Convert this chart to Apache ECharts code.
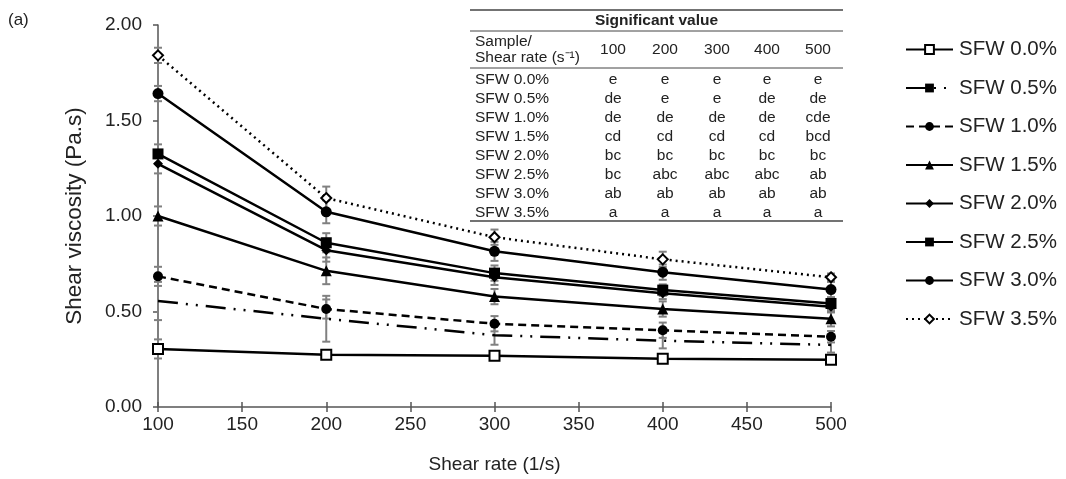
<!DOCTYPE html>
<html><head><meta charset="utf-8">
<script src="https://cdn.jsdelivr.net/npm/echarts@6/dist/echarts.min.js"></script>
<style>html,body{margin:0;padding:0;background:#fff}#c{width:1066px;height:479px}</style>
</head><body><div id="c"></div>
<script>
const shearRates = [100, 200, 300, 400, 500];
const seriesNames = ['SFW 0.0%','SFW 0.5%','SFW 1.0%','SFW 1.5%','SFW 2.0%','SFW 2.5%','SFW 3.0%','SFW 3.5%'];
const sfw00 = [0.304, 0.273, 0.268, 0.253, 0.248];
const sfw05 = [0.555, 0.462, 0.376, 0.347, 0.325];
const sfw10 = [0.684, 0.513, 0.436, 0.402, 0.368];
const sfw15 = [1.000, 0.713, 0.578, 0.513, 0.462];
const sfw20 = [1.273, 0.821, 0.679, 0.595, 0.525];
const sfw25 = [1.325, 0.860, 0.701, 0.612, 0.542];
const sfw30 = [1.641, 1.022, 0.815, 0.706, 0.615];
const sfw35 = [1.841, 1.094, 0.889, 0.773, 0.679];
const err00 = [0.05, 0.015, 0.015, 0.01, 0.01];
const err05 = [0.10, 0.12, 0.05, 0.04, 0.04];
const err10 = [0.05, 0.05, 0.04, 0.04, 0.03];
const err15 = [0.05, 0.07, 0.04, 0.04, 0.04];
const err20 = [0.05, 0.06, 0.04, 0.03, 0.03];
const err25 = [0.05, 0.05, 0.04, 0.03, 0.03];
const err30 = [0.04, 0.06, 0.05, 0.04, 0.04];
const err35 = [0.04, 0.06, 0.04, 0.04, 0.02];
const yTicks = [0, 0.5, 1.0, 1.5, 2.0];
const tableTitle = 'Significant value';
const tableHeadA = 'Sample/';
const tableHeadB = 'Shear rate (s\u207B\u00B9)';
const tableCols = ['100','200','300','400','500'];
const tableRows = ['SFW 0.0%','SFW 0.5%','SFW 1.0%','SFW 1.5%','SFW 2.0%','SFW 2.5%','SFW 3.0%','SFW 3.5%'];
const tableVals = [
  ['e','e','e','e','e'],
  ['de','e','e','de','de'],
  ['de','de','de','de','cde'],
  ['cd','cd','cd','cd','bcd'],
  ['bc','bc','bc','bc','bc'],
  ['bc','abc','abc','abc','ab'],
  ['ab','ab','ab','ab','ab'],
  ['a','a','a','a','a']
];

const values = [sfw00, sfw05, sfw10, sfw15, sfw20, sfw25, sfw30, sfw35];
const errors = [err00, err05, err10, err15, err20, err25, err30, err35];
const FONT = '"Liberation Sans", Arial, sans-serif';
const styles = [
  {symbol:'emptyRect', size:10, type:'solid', show:true},
  {symbol:'path://M0,0 L8,0 L8,4 L0,4 Z', size:[8,4], type:[20,8,2,8,2,8], show:false},
  {symbol:'circle', size:10, type:[8,5], show:true},
  {symbol:'triangle', size:11, type:'solid', show:true},
  {symbol:'diamond', size:10, type:'solid', show:true},
  {symbol:'rect', size:11, type:'solid', show:true},
  {symbol:'circle', size:11, type:'solid', show:true},
  {symbol:'emptyDiamond', size:10, type:[2,4], show:true}
];

const series = [];
values.forEach((vals, i) => {
  series.push({
    type: 'custom', name: seriesNames[i] + ' err', z: 1, silent: true,
    data: shearRates.map((x, j) => [x, vals[j], errors[i][j]]),
    renderItem: function (params, api) {
      const x = api.value(0), y = api.value(1), e = api.value(2);
      const top = api.coord([x, y + e]);
      const bot = api.coord([x, y - e]);
      const w = 4;
      const st = {stroke: '#808080', lineWidth: 2};
      return {type: 'group', children: [
        {type:'line', shape:{x1:top[0], y1:top[1], x2:bot[0], y2:bot[1]}, style: st},
        {type:'line', shape:{x1:top[0]-w, y1:top[1], x2:top[0]+w, y2:top[1]}, style: st},
        {type:'line', shape:{x1:bot[0]-w, y1:bot[1], x2:bot[0]+w, y2:bot[1]}, style: st}
      ]};
    }
  });
});
values.forEach((vals, i) => {
  const s = styles[i];
  const empty = s.symbol.indexOf('empty') === 0;
  series.push({
    type: 'line', name: seriesNames[i], z: 5,
    data: shearRates.map((x, j) => [x, vals[j]]),
    symbol: s.symbol, symbolSize: s.size, showSymbol: s.show,
    lineStyle: {color: '#000', width: 2.5, type: s.type},
    itemStyle: {color: '#000', borderColor: '#000', borderWidth: empty ? 2 : 0},
    animation: false
  });
});

// table graphics
const tX0 = 470, tX1 = 843, labelX = 475;
const colX = [613, 665, 717, 767, 818];
const rowY = [79, 98, 117, 136, 155, 174, 193, 212];
const g = [];
const hline = (y, w) => g.push({type:'line', shape:{x1:tX0, y1:y, x2:tX1, y2:y}, style:{stroke:'#444', lineWidth:w}});
hline(10, 1.5); hline(31, 1); hline(68, 1); hline(221, 1.5);
const txt = (t, x, y, align, bold) => g.push({type:'text', x:x, y:y, style:{text:t, fill:'#222', font:(bold?'bold ':'') + '15.5px ' + FONT, textAlign:align, textVerticalAlign:'middle'}});
txt(tableTitle, (tX0 + tX1) / 2, 21, 'center', true);
txt(tableHeadA, labelX, 42, 'left');
txt(tableHeadB, labelX, 58, 'left');
tableCols.forEach((c, j) => txt(c, colX[j], 50, 'center'));
tableRows.forEach((r, i) => {
  txt(r, labelX, rowY[i] + 1, 'left');
  tableVals[i].forEach((v, j) => txt(v, colX[j], rowY[i] + 1, 'center'));
});
g.push({type:'text', x:8, y:20, style:{text:'(a)', fill:'#222', font:'17px ' + FONT, textVerticalAlign:'middle'}});

const chart = echarts.init(document.getElementById('c'), null, {renderer: 'canvas'});
chart.setOption({
  animation: false,
  backgroundColor: '#fff',
  grid: {left: 158, right: 235, top: 25, bottom: 64},
  legend: {
    data: seriesNames, orient: 'vertical', left: 900, top: 34,
    itemWidth: 47, itemHeight: 11, itemGap: 17.5, symbolKeepAspect: true,
    textStyle: {fontSize: 20.5, color: '#222', fontFamily: FONT, padding: [0,0,0,1]}
  },
  xAxis: [{
    type: 'value', min: 100, max: 500, interval: 50,
    name: 'Shear rate (1/s)', nameLocation: 'middle', nameGap: 48,
    nameTextStyle: {fontSize: 19, color: '#222', fontFamily: FONT},
    axisLine: {lineStyle: {color: '#555', width: 1.5}},
    axisTick: {show: true, length: 5, lineStyle: {color: '#555', width: 1.5}},
    axisLabel: {fontSize: 19, color: '#222', fontFamily: FONT, margin: 8},
    splitLine: {show: false}
  }, {
    type: 'value', min: 100, max: 500, interval: 50, position: 'bottom',
    axisLine: {show: false},
    axisTick: {show: true, inside: true, length: 5, lineStyle: {color: '#555', width: 1.5}},
    axisLabel: {show: false}, splitLine: {show: false}
  }],
  yAxis: {
    type: 'value', min: 0, max: 2, interval: 0.5,
    name: 'Shear viscosity (Pa.s)', nameLocation: 'middle', nameGap: 72,
    nameTextStyle: {fontSize: 22.5, color: '#222', fontFamily: FONT},
    axisLine: {show: true, lineStyle: {color: '#555', width: 1.5}},
    axisTick: {show: true, length: 5, lineStyle: {color: '#555', width: 1.5}},
    axisLabel: {fontSize: 19, color: '#222', fontFamily: FONT, margin: 16,
      formatter: v => yTicks.indexOf(v) >= 0 ? v.toFixed(2) : ''},
    splitLine: {show: false}
  },
  series: series,
  graphic: g
});
</script></body></html>
